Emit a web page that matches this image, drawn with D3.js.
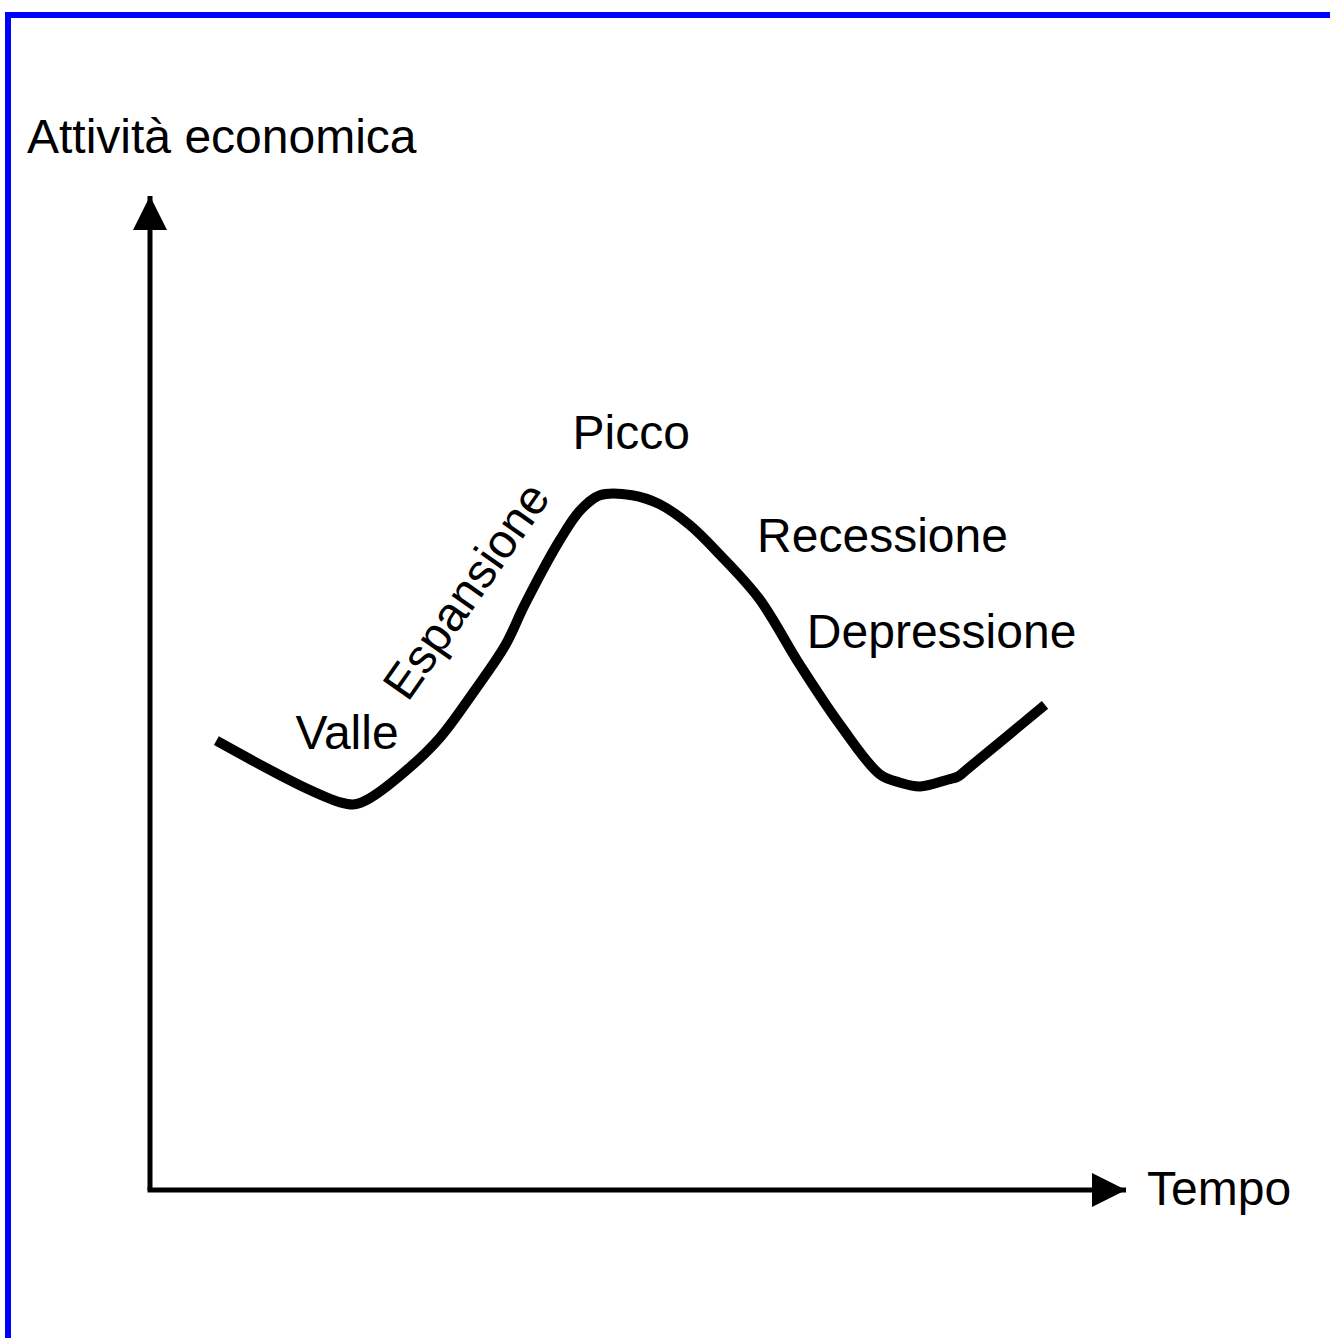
<!DOCTYPE html>
<html lang="it">
<head>
  <meta charset="UTF-8">
  <title>Ciclo economico</title>
  <script src="https://d3js.org/d3.v7.min.js"></script>
  <style>
    body { margin: 0; background: #fff; }
    text { font-family: "Liberation Sans", Arial, sans-serif; font-size: 48px; fill: #000; }
  </style>
</head>
<body>
<script type="text/javascript">
    // tempo (0-1000) e attività economica (0-1000)
    var tempo    = [68, 154, 195, 210, 225, 266, 297, 333, 364, 384, 420, 441, 461, 494, 522, 553, 584, 624, 666, 707, 748, 768, 789, 818, 828, 838, 917];
    var attivita = [452, 407, 390, 388, 394, 425, 455, 503, 548, 589, 654, 684, 699, 699, 690, 669, 639, 595, 528, 468, 418, 410, 406, 413, 416, 424, 488];

    var fasi = ["Valle", "Espansione", "Picco", "Recessione", "Depressione"];
    var fasiT = [149, 264, 433, 622, 673];
    var fasiA = [444, 490, 745, 642, 545];
    var fasiRot = [0, -55, 0, 0, 0];

    var W = 1330, H = 1338;
    var svg = d3.select("body").append("svg")
                .attr("width", W)
                .attr("height", H);

    // cornice blu
    svg.append("rect")
       .attr("x", 8).attr("y", 15)
       .attr("width", W + 20).attr("height", H + 20)
       .attr("fill", "none")
       .attr("stroke", "#0000ff")
       .attr("stroke-width", 6);

    var x = d3.scaleLinear().domain([0, 1000]).range([150, 1126]);
    var y = d3.scaleLinear().domain([0, 1000]).range([1190, 196]);

    // frecce
    var defs = svg.append("defs");
    defs.append("marker")
        .attr("id", "freccia")
        .attr("viewBox", "0 0 34 34")
        .attr("refX", 34).attr("refY", 17)
        .attr("markerWidth", 34).attr("markerHeight", 34)
        .attr("markerUnits", "userSpaceOnUse")
        .attr("orient", "auto")
        .append("path")
        .attr("d", "M0,0 L34,17 L0,34 Z")
        .attr("fill", "#000");

    svg.append("line")
       .attr("x1", x(0)).attr("y1", y(0))
       .attr("x2", x(0)).attr("y2", y(1000))
       .attr("stroke", "#000").attr("stroke-width", 5)
       .attr("marker-end", "url(#freccia)");

    svg.append("line")
       .attr("x1", x(0) - 2.5).attr("y1", y(0))
       .attr("x2", x(1000)).attr("y2", y(0))
       .attr("stroke", "#000").attr("stroke-width", 5)
       .attr("marker-end", "url(#freccia)");

    svg.append("text")
       .attr("x", 27).attr("y", 153)
       .text("Attività economica");

    svg.append("text")
       .attr("x", 1147).attr("y", 1205)
       .text("Tempo");

    // curva del ciclo
    var line = d3.line()
                 .x(function(d, i){ return x(tempo[i]); })
                 .y(function(d, i){ return y(attivita[i]); })
                 .curve(d3.curveCatmullRom.alpha(0.5));

    svg.append("path")
       .datum(tempo)
       .attr("d", line)
       .attr("fill", "none")
       .attr("stroke", "#000")
       .attr("stroke-width", 10)
       .attr("stroke-linejoin", "round");

    svg.selectAll("text.fase")
       .data(fasi)
       .enter()
       .append("text")
       .attr("class", "fase")
       .attr("transform", function(d, i){
           return "translate(" + x(fasiT[i]) + "," + y(fasiA[i]) + ") rotate(" + fasiRot[i] + ")";
       })
       .text(function(d){ return d; });
</script>
</body>
</html>
